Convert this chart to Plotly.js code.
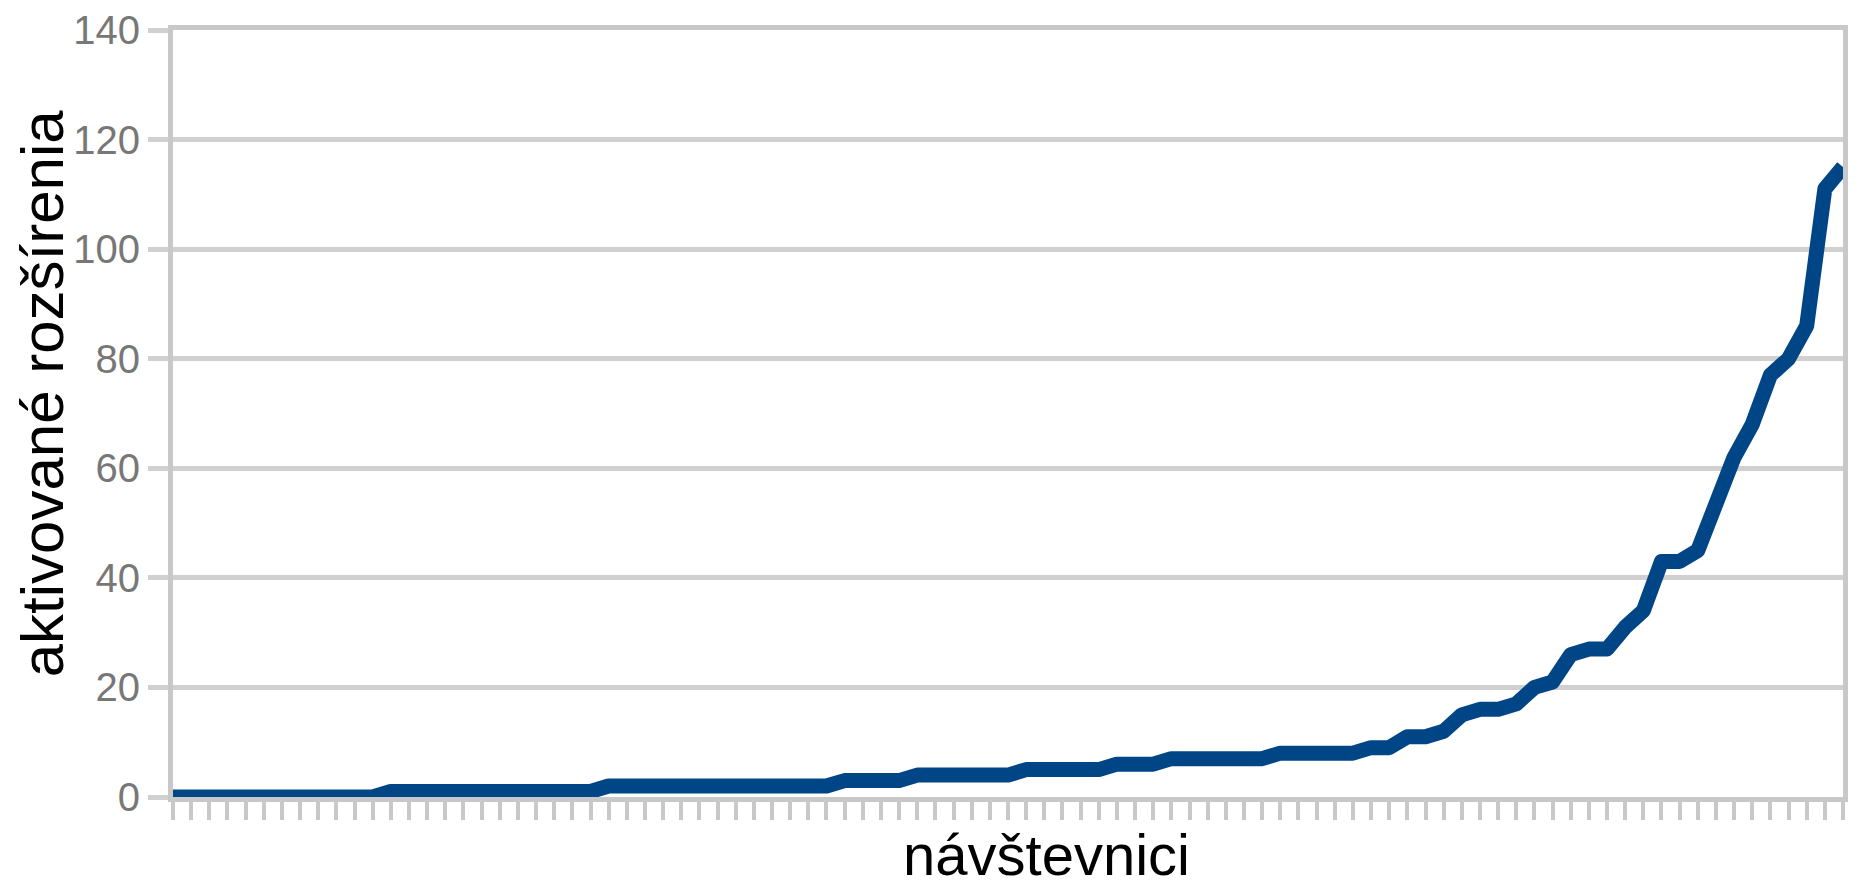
<!DOCTYPE html>
<html>
<head>
<meta charset="utf-8">
<script src="https://cdn.plot.ly/plotly-3.0.1.min.js"></script>
<style>
  html, body { margin: 0; padding: 0; background: #ffffff; }
  #chart { width: 1861px; height: 889px; }
  .scatterlayer .js-line { stroke-linejoin: round; }
</style>
</head>
<body>
<div id="chart"></div>
<script>
// Activated extensions per visitor, visitors sorted in ascending order.
const activated = [
  0, 0, 0, 0, 0, 0, 0, 0, 0, 0, 0, 0,
  1, 1, 1, 1, 1, 1, 1, 1, 1, 1, 1, 1,
  2, 2, 2, 2, 2, 2, 2, 2, 2, 2, 2, 2, 2,
  3, 3, 3, 3,
  4, 4, 4, 4, 4, 4,
  5, 5, 5, 5, 5,
  6, 6, 6,
  7, 7, 7, 7, 7, 7,
  8, 8, 8, 8, 8,
  9, 9,
  11, 11, 12, 15, 16, 16, 17, 20, 21, 26, 27, 27, 31, 34,
  43, 43, 45, 54, 62, 68, 77, 80, 86, 111, 115
];

// Value axis ticks
const yTicks = [0, 20, 40, 60, 80, 100, 120, 140];

// Axis titles
const xTitle = 'návštevnici';
const yTitle = 'aktivované rozšírenia';

const seriesColor = '#004586';
const gridColor = '#d0d0d0';
const axisColor = '#c8c8c8';
const fontFamily = '"Liberation Sans", Arial, sans-serif';

const trace = {
  y: activated,
  type: 'scatter',
  mode: 'lines',
  line: { color: seriesColor, width: 15 },
  hoverinfo: 'y'
};

const layout = {
  width: 1861,
  height: 889,
  margin: { l: 173, r: 18, t: 30, b: 92 },
  paper_bgcolor: '#ffffff',
  plot_bgcolor: '#ffffff',
  showlegend: false,
  font: { family: fontFamily },
  xaxis: {
    range: [0, activated.length - 1],
    tick0: 0,
    dtick: 1,
    ticks: 'outside',
    ticklen: 18,
    tickwidth: 4,
    tickcolor: axisColor,
    showticklabels: false,
    showgrid: false,
    zeroline: false,
    showline: true,
    linecolor: axisColor,
    linewidth: 5,
    mirror: true,
    fixedrange: true
  },
  yaxis: {
    range: [0, 140],
    tickmode: 'array',
    tickvals: yTicks,
    ticktext: yTicks.map(String),
    ticks: 'outside',
    ticklen: 20,
    tickwidth: 5,
    tickcolor: gridColor,
    tickfont: { family: fontFamily, size: 40, color: '#777777' },
    showgrid: true,
    gridcolor: gridColor,
    gridwidth: 5,
    zeroline: false,
    showline: true,
    linecolor: axisColor,
    linewidth: 5,
    mirror: true,
    fixedrange: true
  },
  annotations: [
    {
      text: xTitle,
      xref: 'paper', yref: 'paper',
      x: 0.5228, y: -0.0745,
      xanchor: 'center', yanchor: 'middle',
      showarrow: false,
      font: { family: fontFamily, size: 58, color: '#000000' }
    },
    {
      text: yTitle,
      xref: 'paper', yref: 'paper',
      x: -0.0784, y: 0.5264,
      xanchor: 'center', yanchor: 'middle',
      textangle: -90,
      showarrow: false,
      font: { family: fontFamily, size: 60, color: '#000000' }
    }
  ]
};

Plotly.newPlot('chart', [trace], layout, { staticPlot: true, displayModeBar: false });
</script>
</body>
</html>
